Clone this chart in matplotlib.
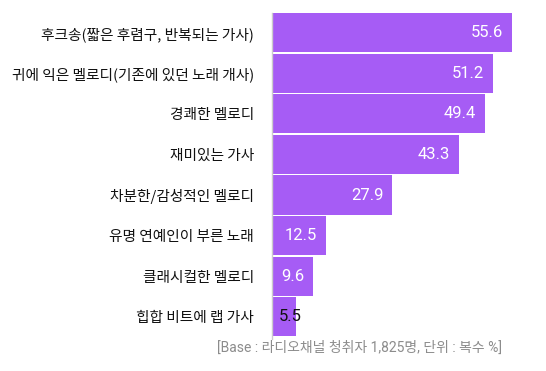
import matplotlib

matplotlib.use("Agg")
import matplotlib.pyplot as plt

plt.rcParams["font.family"] = ["Noto Sans CJK KR", "DejaVu Sans"]

categories = [
    "후크송(짧은 후렴구, 반복되는 가사)",
    "귀에 익은 멜로디(기존에 있던 노래 개사)",
    "경쾌한 멜로디",
    "재미있는 가사",
    "차분한/감성적인 멜로디",
    "유명 연예인이 부른 노래",
    "클래시컬한 멜로디",
    "힙합 비트에 랩 가사",
]
values = [55.6, 51.2, 49.4, 43.3, 27.9, 12.5, 9.6, 5.5]
footnote = "[Base : 라디오채널 청취자 1,825명, 단위 : 복수 %]"

bar_color = "#a65cf5"
num_fonts = ["Roboto", "Noto Sans CJK KR"]

fig = plt.figure(figsize=(5.46, 3.71), dpi=100)
ax = fig.add_axes([272 / 546, 34 / 371, 240 / 546, 324.5 / 371])

positions = list(range(len(values)))
bars = ax.barh(positions, values, height=0.965, color=bar_color)
ax.set_xlim(0, max(values))
ax.set_ylim(len(values) - 0.5, -0.5)

ax.set_yticks(positions)
ax.set_yticklabels(categories, fontsize=10.6, color="#111111")
ax.tick_params(axis="y", length=0, pad=13)
ax.set_xticks([])

for side in ["top", "right", "bottom"]:
    ax.spines[side].set_visible(False)
ax.spines["left"].set_color("#cccccc")
ax.spines["left"].set_linewidth(1)
ax.spines["left"].set_bounds(-0.5, len(values) - 0.45)

for bar, val in zip(bars, values):
    y = bar.get_y() + bar.get_height() / 2
    if val < 8:
        ax.annotate(f"{val}", (0, y), xytext=(5, 0), textcoords="offset points",
                    ha="left", va="center", fontsize=12, color="#111111",
                    family=num_fonts, annotation_clip=False)
    else:
        ax.annotate(f"{val}", (val, y), xytext=(-6.5, 0), textcoords="offset points",
                    ha="right", va="center", fontsize=12, color="white",
                    family=num_fonts)

fig.text(502 / 546, 1 - 348 / 371, footnote, ha="right", va="center",
         fontsize=10, color="#8c8c8c", family=num_fonts)

fig.savefig("out.png", dpi=100)
